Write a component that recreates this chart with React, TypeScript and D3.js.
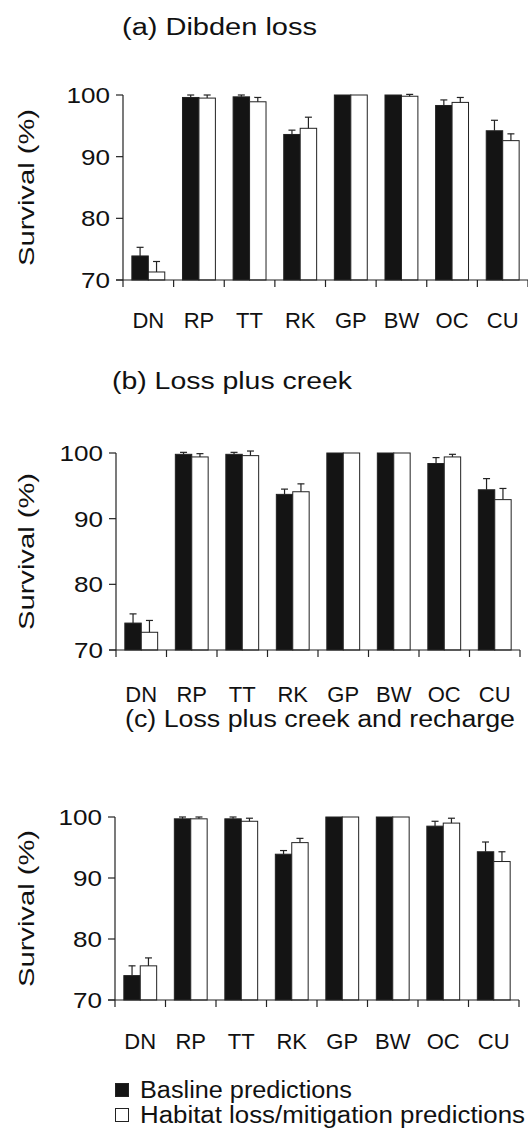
import { useRef, useEffect } from "react";
import * as d3 from "d3";

const categories = ["DN", "RP", "TT", "RK", "GP", "BW", "OC", "CU"];
const seriesNames = ["Basline predictions", "Habitat loss/mitigation predictions"];
const panelTitles = ["(a) Dibden loss", "(b) Loss plus creek", "(c) Loss plus creek and recharge"];
const yTicks = [70, 80, 90, 100];

// (a) Dibden loss
const baselineA = [73.9, 99.6, 99.7, 93.6, 100, 100, 98.3, 94.2];
const baselineErrA = [1.4, 0.4, 0.3, 0.7, 0, 0, 0.9, 1.7];
const habitatA = [71.3, 99.5, 98.9, 94.6, 100, 99.8, 98.8, 92.6];
const habitatErrA = [1.7, 0.5, 0.7, 1.8, 0, 0.3, 0.8, 1.1];

// (b) Loss plus creek
const baselineB = [74.1, 99.8, 99.8, 93.7, 100, 100, 98.4, 94.4];
const baselineErrB = [1.4, 0.3, 0.3, 0.8, 0, 0, 0.9, 1.7];
const habitatB = [72.7, 99.4, 99.6, 94.1, 100, 100, 99.4, 92.9];
const habitatErrB = [1.8, 0.5, 0.7, 1.2, 0, 0, 0.4, 1.7];

// (c) Loss plus creek and recharge
const baselineC = [74.0, 99.7, 99.7, 93.9, 100, 100, 98.5, 94.3];
const baselineErrC = [1.6, 0.3, 0.3, 0.6, 0, 0, 0.8, 1.6];
const habitatC = [75.6, 99.7, 99.3, 95.8, 100, 100, 99.0, 92.7];
const habitatErrC = [1.3, 0.3, 0.5, 0.7, 0, 0, 0.8, 1.6];

const W = 528;
const H = 1137;
const FONT = "'Liberation Sans', Arial, sans-serif";

const panels = [
  { title: panelTitles[0], values: [baselineA, habitatA], errs: [baselineErrA, habitatErrA],
    left: 123, right: 528, top: 95, bottom: 280, titleX: 122, titleY: 35, titleLen: 195, labelY: 328 },
  { title: panelTitles[1], values: [baselineB, habitatB], errs: [baselineErrB, habitatErrB],
    left: 116, right: 520, top: 453, bottom: 650, titleX: 112, titleY: 389, titleLen: 240, labelY: 702 },
  { title: panelTitles[2], values: [baselineC, habitatC], errs: [baselineErrC, habitatErrC],
    left: 115, right: 519, top: 817, bottom: 1000, titleX: 125, titleY: 727, titleLen: 390, labelY: 1049 },
];

const fills = ["#141414", "#ffffff"];

const App = () => {
  const svgRef = useRef<SVGSVGElement | null>(null);

  useEffect(() => {
    document.body.style.margin = "0";
    if (!svgRef.current) return;
    const svg = d3.select(svgRef.current);
    svg.selectAll("*").remove();

    panels.forEach((p) => {
      const g = svg.append("g");

      const x0 = d3
        .scaleBand<string>()
        .domain(categories)
        .range([p.left, p.right])
        .paddingInner(0.35)
        .paddingOuter(0.175);
      const x1 = d3
        .scaleBand<number>()
        .domain([0, 1])
        .range([0, x0.bandwidth()]);
      const y = d3.scaleLinear().domain([70, 100]).range([p.bottom, p.top]);
      const step = x0.step();

      // title
      g.append("text")
        .attr("x", p.titleX)
        .attr("y", p.titleY)
        .attr("font-family", FONT)
        .attr("font-size", 23)
        .attr("textLength", p.titleLen)
        .attr("lengthAdjust", "spacingAndGlyphs")
        .attr("fill", "#111")
        .text(p.title);

      // y title
      g.append("text")
        .attr("transform", `translate(34,${(p.top + p.bottom) / 2}) rotate(-90)`)
        .attr("text-anchor", "middle")
        .attr("font-family", FONT)
        .attr("font-size", 22)
        .attr("textLength", 157)
        .attr("lengthAdjust", "spacingAndGlyphs")
        .attr("fill", "#111")
        .text("Survival (%)");

      // bars
      p.values.forEach((vals, s) => {
        vals.forEach((v, i) => {
          const bx = (x0(categories[i]) as number) + (x1(s) as number);
          const bw = x1.bandwidth();
          g.append("rect")
            .attr("x", bx)
            .attr("y", y(v))
            .attr("width", bw)
            .attr("height", y(70) - y(v))
            .attr("fill", fills[s])
            .attr("stroke", "#222")
            .attr("stroke-width", 1);
          const e = p.errs[s][i];
          if (e > 0) {
            const cx = bx + bw / 2;
            g.append("line")
              .attr("x1", cx).attr("x2", cx)
              .attr("y1", y(v)).attr("y2", y(v + e))
              .attr("stroke", "#222").attr("stroke-width", 1.2);
            g.append("line")
              .attr("x1", cx - 3.5).attr("x2", cx + 3.5)
              .attr("y1", y(v + e)).attr("y2", y(v + e))
              .attr("stroke", "#222").attr("stroke-width", 1.2);
          }
        });
      });

      // y axis
      g.append("line")
        .attr("x1", p.left).attr("x2", p.left)
        .attr("y1", y(70)).attr("y2", y(100))
        .attr("stroke", "#222").attr("stroke-width", 1.2);
      yTicks.forEach((t) => {
        g.append("line")
          .attr("x1", p.left - 7).attr("x2", p.left)
          .attr("y1", y(t)).attr("y2", y(t))
          .attr("stroke", "#222").attr("stroke-width", 1.2);
        g.append("text")
          .attr("x", p.left - 13)
          .attr("y", y(t) + 8)
          .attr("text-anchor", "end")
          .attr("font-family", FONT)
          .attr("font-size", 22)
          .attr("textLength", String(t).length * 14.5)
          .attr("lengthAdjust", "spacingAndGlyphs")
          .attr("fill", "#111")
          .text(String(t));
      });

      // x axis
      g.append("line")
        .attr("x1", p.left - 7).attr("x2", p.right)
        .attr("y1", y(70)).attr("y2", y(70))
        .attr("stroke", "#222").attr("stroke-width", 1.2);
      d3.range(categories.length + 1).forEach((k) => {
        const tx = p.left + k * step;
        g.append("line")
          .attr("x1", tx).attr("x2", tx)
          .attr("y1", y(70)).attr("y2", y(70) + 7)
          .attr("stroke", "#222").attr("stroke-width", 1.2);
      });
      categories.forEach((c) => {
        g.append("text")
          .attr("x", (x0(c) as number) + x0.bandwidth() / 2)
          .attr("y", p.labelY)
          .attr("text-anchor", "middle")
          .attr("font-family", FONT)
          .attr("font-size", 22)
          .attr("fill", "#111")
          .text(c);
      });
    });

    // legend
    const legend = svg.append("g");
    const legendRows = [1097, 1122];
    seriesNames.forEach((name, s) => {
      legend
        .append("rect")
        .attr("x", 115.5)
        .attr("y", legendRows[s] - 13.5)
        .attr("width", 13)
        .attr("height", 13)
        .attr("fill", fills[s])
        .attr("stroke", "#222")
        .attr("stroke-width", 1);
      legend
        .append("text")
        .attr("x", 140)
        .attr("y", legendRows[s] + 1)
        .attr("font-family", FONT)
        .attr("font-size", 23)
        .attr("textLength", s === 0 ? 212 : 385)
        .attr("lengthAdjust", "spacingAndGlyphs")
        .attr("fill", "#111")
        .text(name);
    });
  }, []);

  return (
    <div style={{ width: W, height: H }}>
      <svg ref={svgRef} width={W} height={H} style={{ display: "block", background: "#fff" }}></svg>
    </div>
  );
};

export default App;
